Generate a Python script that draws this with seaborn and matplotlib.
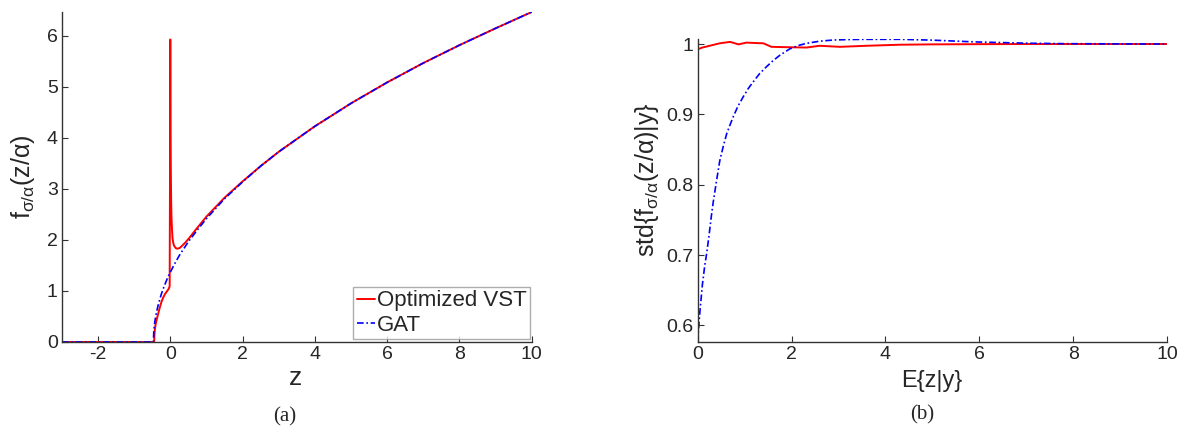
import matplotlib
matplotlib.use("Agg")
import matplotlib.pyplot as plt
import seaborn as sns
import pandas as pd

# ---------------- data ----------------
z_gat = [-3.0, -0.47, -0.46, -0.45, -0.43, -0.4, -0.35, -0.3, -0.25, -0.2, -0.15, -0.1,
         -0.05, 0.0, 0.1, 0.25, 0.5, 0.75, 1.0, 1.5, 2.0, 2.5, 3.0, 4.0, 5.0, 6.0, 7.0,
         8.0, 9.0, 10.0]
f_gat = [0.0, 0.0, 0.2, 0.28, 0.40, 0.53, 0.69, 0.82, 0.94, 1.04, 1.13, 1.22,
         1.30, 1.37, 1.51, 1.70, 1.97, 2.20, 2.42, 2.81, 3.14, 3.45, 3.73, 4.23, 4.68, 5.09, 5.47,
         5.82, 6.15, 6.47]

z_opt = [-3.0, -0.45, -0.44, -0.43, -0.4, -0.35, -0.3, -0.25, -0.2, -0.15, -0.1, -0.05,
         -0.03, -0.02, -0.012, -0.006, 0.0, 0.006, 0.012, 0.02, 0.03, 0.045, 0.06, 0.08, 0.1,
         0.15, 0.19, 0.25, 0.3, 0.4, 0.5, 0.7, 1.0, 1.5, 2.0, 2.5, 3.0, 4.0, 5.0, 6.0, 7.0,
         8.0, 9.0, 10.0]
f_opt = [0.0, 0.0, 0.15, 0.25, 0.38, 0.52, 0.66, 0.78, 0.87, 0.94, 0.99, 1.04,
         1.07, 1.10, 3.0, 5.93, 5.93, 4.2, 3.4, 2.8, 2.45, 2.2, 2.03, 1.94, 1.89,
         1.84, 1.83, 1.84, 1.87, 1.94, 2.02, 2.2, 2.46, 2.83, 3.15, 3.45, 3.73, 4.23, 4.68, 5.09, 5.47,
         5.82, 6.15, 6.47]

e_gat = [0.0, 0.02, 0.05, 0.1, 0.15, 0.19, 0.24, 0.29, 0.33, 0.4, 0.47, 0.55, 0.62, 0.7,
         0.76, 0.86, 0.97, 1.08, 1.18, 1.32, 1.47, 1.6, 1.75, 1.96, 2.15, 2.32, 2.6, 2.89,
         3.2, 3.5, 4.3, 5.0, 5.9, 7.0, 7.8, 9.0, 10.0]
std_gat = [0.5765, 0.597, 0.622, 0.658, 0.685, 0.702, 0.727, 0.755, 0.775, 0.805, 0.834,
           0.856, 0.873, 0.887, 0.897, 0.912, 0.925, 0.937, 0.946, 0.958, 0.968, 0.976,
           0.984, 0.993, 0.998, 1.001, 1.004, 1.0057, 1.0063, 1.0066, 1.0067, 1.0055, 1.003,
           1.0012, 1.0005, 1.0002, 1.0]

e_opt = [0.0, 0.1, 0.26, 0.47, 0.69, 0.87, 1.04, 1.2, 1.4, 1.57, 1.89, 2.32, 2.6, 3.03, 3.6,
         4.3, 5.0, 6.0, 7.0, 8.0, 9.0, 10.0]
std_opt = [0.9925, 0.995, 0.9976, 1.001, 1.003, 0.9995, 1.002, 1.0015, 1.001, 0.996, 0.9955,
           0.995, 0.9975, 0.996, 0.9975, 0.999, 0.9995, 0.9998, 1.0, 1.0, 1.0, 1.0]

xticks_a = [-2, 0, 2, 4, 6, 8, 10]
yticks_a = [0, 1, 2, 3, 4, 5, 6]
xticks_b = [0, 2, 4, 6, 8, 10]
yticks_b = [0.6, 0.7, 0.8, 0.9, 1.0]
yticklabels_b = ["0.6", "0.7", "0.8", "0.9", "1"]
labels = ["Optimized VST", "GAT"]

# ---------------- style ----------------
sns.set_theme(style="white")
plt.rcParams["font.family"] = ["Liberation Sans", "DejaVu Sans"]
plt.rcParams["mathtext.fontset"] = "custom"
plt.rcParams["mathtext.rm"] = "Liberation Sans"
plt.rcParams["mathtext.it"] = "Liberation Sans:italic"
plt.rcParams["mathtext.default"] = "rm"

RED = "#ff0000"
BLUE = "#0000ff"
DASHDOT = (0, (4, 1.6, 1, 1.6))

fig = plt.figure(figsize=(11.86, 4.32), dpi=100)
ax1 = fig.add_axes([62 / 1186, 90 / 432, 469.7 / 1186, 330 / 432])
ax2 = fig.add_axes([697.7 / 1186, 90 / 432, 469.3 / 1186, 302.7 / 432])

df_a1 = pd.DataFrame({"z": z_opt, "f": f_opt})
df_a2 = pd.DataFrame({"z": z_gat, "f": f_gat})
sns.lineplot(data=df_a1, x="z", y="f", ax=ax1, color=RED, lw=1.4,
             estimator=None, sort=False, label=labels[0])
sns.lineplot(data=df_a2, x="z", y="f", ax=ax1, color=BLUE, lw=1.2,
             estimator=None, sort=False, label=labels[1], linestyle=DASHDOT)

df_b1 = pd.DataFrame({"e": e_opt, "s": std_opt})
df_b2 = pd.DataFrame({"e": e_gat, "s": std_gat})
sns.lineplot(data=df_b1, x="e", y="s", ax=ax2, color=RED, lw=1.4,
             estimator=None, sort=False)
sns.lineplot(data=df_b2, x="e", y="s", ax=ax2, color=BLUE, lw=1.2,
             estimator=None, sort=False, linestyle=DASHDOT)

ax1.set_xlim(-3, 10)
ax1.set_ylim(0, 6.47)
ax1.set_xticks(xticks_a)
ax1.set_xticklabels([str(t) for t in xticks_a])
ax1.set_yticks(yticks_a)

ax2.set_xlim(0, 10)
ax2.set_ylim(0.5765, 1.0067)
ax2.set_xticks(xticks_b)
ax2.set_yticks(yticks_b)
ax2.set_yticklabels(yticklabels_b)

for ax in (ax1, ax2):
    for s in ("top", "right"):
        ax.spines[s].set_visible(False)
    for s in ("left", "bottom"):
        ax.spines[s].set_color("#333333")
        ax.spines[s].set_linewidth(1.0)
    ax.tick_params(direction="in", length=4, width=0.8, color="#333333",
                   labelsize=14, pad=3, bottom=True, left=True)
    ax.grid(False)
    ax.set_facecolor("white")

ax1.set_xlabel("z", fontsize=19)
ax1.xaxis.set_label_coords((296 - 62) / 469.7, (342 - 378) / 330)
ax1.xaxis.label.set_va("center")
ax1.set_ylabel(r"$\mathregular{f_{\sigma/\alpha}(z/\alpha)}$", fontsize=18)
ax1.yaxis.set_label_coords((23 - 62) / 469.7, 0.5)
ax1.yaxis.label.set_va("center")

ax2.set_xlabel("E{z|y}", fontsize=17)
ax2.xaxis.set_label_coords((932 - 697.7) / 469.3, (342 - 381) / 302.7)
ax2.xaxis.label.set_va("center")
ax2.set_ylabel(r"$\mathregular{std\{f_{\sigma/\alpha}(z/\alpha)|y\}}$", fontsize=18)
ax2.yaxis.set_label_coords((647 - 697.7) / 469.3, (342 - 180) / 302.7)
ax2.yaxis.label.set_va("center")

leg = ax1.legend(loc="lower right", bbox_to_anchor=(0.996, 0.009), borderaxespad=0,
                 fontsize=16, frameon=True, fancybox=False, handlelength=0.8,
                 handletextpad=0.1, borderpad=0.15, labelspacing=0.15)
leg.get_frame().set_edgecolor("#999999")
leg.get_frame().set_linewidth(1.0)

fig.text(285 / 1186, 1 - 417 / 432, "(a)", ha="center", va="center",
         fontsize=15, family="Liberation Serif")
fig.text(922 / 1186, 1 - 415 / 432, "(b)", ha="center", va="center",
         fontsize=15, family="Liberation Serif")

fig.savefig("out.png", dpi=100, facecolor="white")
